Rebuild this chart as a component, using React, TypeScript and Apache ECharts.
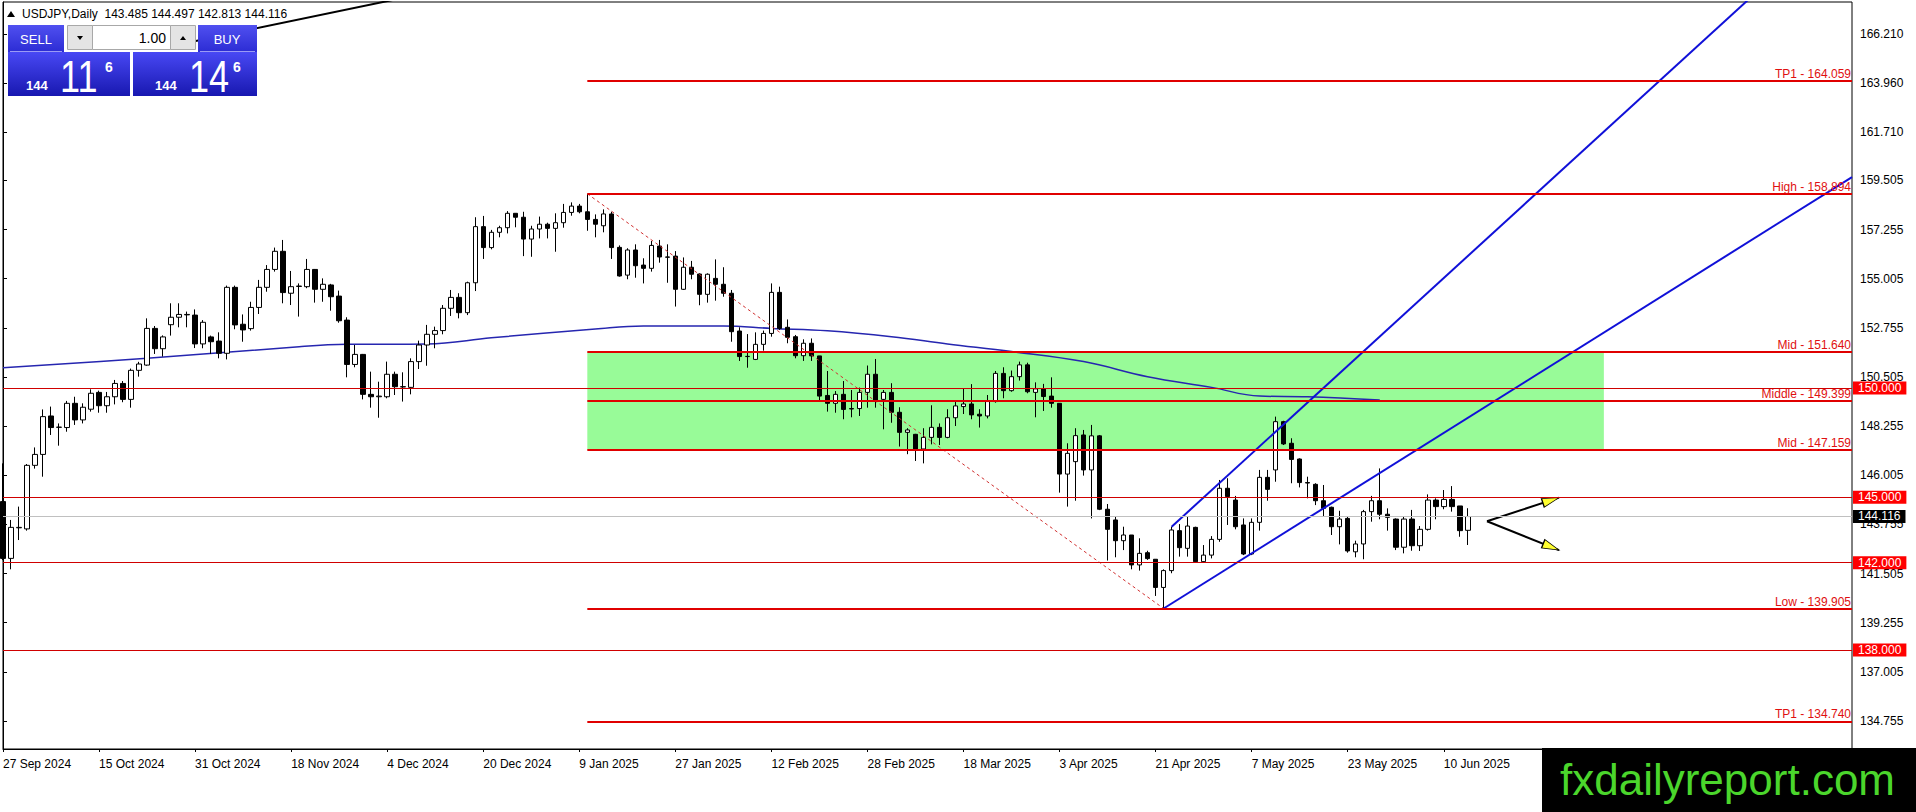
import React, { useEffect, useRef } from 'react';
import * as echarts from 'echarts';

const FONT = "'Liberation Sans', Arial, sans-serif";

// ---- x axis ----
const dateLabels = ['27 Sep 2024', '15 Oct 2024', '31 Oct 2024', '18 Nov 2024', '4 Dec 2024', '20 Dec 2024', '9 Jan 2025', '27 Jan 2025', '12 Feb 2025', '28 Feb 2025', '18 Mar 2025', '3 Apr 2025', '21 Apr 2025', '7 May 2025', '23 May 2025', '10 Jun 2025'];
const LABEL_EVERY = 12;
const SLOT_COUNT = 232; // bars + empty space to the right

// ---- candles (daily USDJPY) ----
const opens = [144.80, 142.20, 143.60, 143.55, 146.46, 146.96, 148.72, 148.20, 148.19, 149.30,
  148.54, 149.03, 149.80, 149.19, 149.60, 150.21, 149.48, 150.81, 151.05, 152.73,
  151.80, 152.90, 153.24, 153.37, 153.34, 152.02, 152.34, 152.15, 151.59, 154.61,
  152.92, 152.72, 153.69, 154.61, 155.43, 156.26, 154.34, 154.65, 154.64, 155.43,
  154.52, 154.72, 154.21, 153.11, 151.08, 151.54, 149.71, 149.60, 149.60, 150.63,
  150.06, 150.03, 151.21, 151.97, 152.46, 152.63, 153.65, 154.15, 153.45, 154.82,
  157.39, 156.43, 157.13, 157.34, 158.00, 157.82, 156.82, 157.28, 157.50, 157.31,
  157.57, 158.04, 158.33, 158.07, 157.72, 157.43, 157.97, 156.44, 155.17, 156.32,
  155.63, 155.48, 156.50, 156.00, 156.04, 154.52, 155.53, 155.22, 154.29, 155.02,
  154.75, 154.34, 152.61, 151.44, 151.31, 152.00, 152.50, 154.38, 152.78, 152.35,
  151.48, 152.05, 151.47, 149.66, 149.30, 149.71, 149.06, 149.06, 149.80, 150.63,
  149.48, 149.80, 148.89, 147.97, 147.88, 147.21, 147.74, 148.20, 147.74, 148.64,
  149.15, 149.27, 148.80, 148.72, 149.38, 150.67, 149.88, 150.52, 151.06, 149.80,
  149.96, 149.63, 149.30, 146.06, 146.63, 147.85, 146.25, 147.81, 144.45, 143.96,
  143.01, 143.27, 141.90, 142.46, 142.16, 140.87, 141.64, 143.47, 142.66, 143.62,
  142.05, 142.35, 143.07, 145.41, 144.87, 143.73, 142.40, 143.85, 145.91, 146.25,
  148.46, 147.47, 146.75, 145.67, 145.59, 144.84, 144.54, 143.65, 144.03, 142.50,
  142.86, 144.34, 144.84, 144.22, 144.00, 142.71, 144.00, 142.78, 143.53, 144.87,
  144.57, 144.90, 144.60, 143.485];
const highs = [146.55, 143.96, 144.57, 146.52, 147.28, 149.02, 149.15, 148.38, 149.41, 149.60,
  149.30, 149.94, 149.88, 149.82, 150.37, 150.32, 150.89, 151.20, 153.19, 152.84,
  152.41, 153.88, 153.88, 153.50, 153.60, 153.11, 152.40, 152.55, 154.69, 154.69,
  153.37, 153.95, 154.95, 155.63, 156.43, 156.78, 155.36, 154.79, 155.91, 155.45,
  155.02, 154.77, 154.46, 153.24, 151.97, 151.56, 150.75, 150.29, 151.21, 150.75,
  150.72, 151.36, 152.17, 152.89, 152.81, 153.80, 154.49, 154.34, 154.87, 157.82,
  157.88, 157.24, 157.43, 158.10, 158.00, 158.07, 157.43, 157.85, 157.57, 158.00,
  158.43, 158.50, 158.43, 158.89, 157.95, 158.18, 158.07, 156.53, 156.40, 156.58,
  155.94, 156.73, 156.78, 156.58, 156.27, 155.98, 155.82, 155.25, 155.25, 155.89,
  155.53, 154.49, 152.78, 152.47, 152.55, 152.63, 154.79, 154.64, 153.14, 152.43,
  152.23, 152.27, 151.47, 150.78, 149.86, 150.32, 149.91, 150.02, 151.03, 151.33,
  149.91, 150.22, 149.12, 148.16, 147.90, 148.16, 149.21, 148.38, 149.03, 149.38,
  149.99, 150.18, 149.03, 149.68, 150.78, 150.95, 150.80, 151.21, 151.16, 150.26,
  150.19, 150.49, 149.30, 147.47, 148.16, 148.08, 148.31, 147.85, 144.69, 144.14,
  143.65, 143.27, 143.12, 142.55, 142.16, 141.70, 143.65, 143.77, 144.11, 143.65,
  142.81, 143.22, 145.79, 145.87, 145.06, 144.03, 144.03, 146.25, 146.25, 148.69,
  148.50, 147.70, 146.78, 145.94, 145.64, 145.56, 144.57, 144.38, 144.11, 143.01,
  144.42, 145.06, 146.32, 144.49, 144.03, 144.11, 144.42, 143.68, 145.13, 144.95,
  145.33, 145.51, 144.60, 144.497];
const lows = [142.12, 141.70, 143.04, 143.47, 146.31, 145.94, 147.85, 147.36, 148.00, 148.31,
  148.38, 148.92, 148.87, 148.87, 149.25, 149.35, 149.10, 150.52, 151.02, 151.56,
  151.44, 152.40, 152.78, 152.78, 151.83, 151.82, 151.56, 151.36, 151.31, 152.69,
  152.12, 152.63, 153.39, 154.41, 155.33, 153.88, 153.80, 153.27, 154.57, 153.91,
  153.95, 153.54, 152.99, 150.49, 150.95, 149.48, 149.10, 148.64, 149.53, 149.68,
  149.38, 149.71, 150.87, 151.02, 151.82, 152.46, 153.30, 153.19, 153.34, 154.44,
  155.91, 156.35, 156.90, 157.08, 157.36, 156.04, 156.01, 156.85, 156.85, 156.24,
  157.34, 157.89, 158.00, 157.20, 156.90, 157.13, 155.91, 155.10, 154.98, 155.05,
  154.79, 155.33, 155.74, 154.82, 153.73, 154.49, 154.98, 153.79, 153.91, 154.00,
  154.18, 152.12, 151.24, 150.93, 151.28, 151.71, 152.35, 152.66, 152.05, 151.36,
  151.24, 151.24, 149.45, 148.92, 148.87, 148.57, 148.66, 148.72, 149.10, 149.10,
  148.11, 148.41, 147.32, 146.97, 146.66, 146.55, 147.42, 147.39, 147.70, 148.26,
  148.81, 148.57, 148.19, 148.61, 149.33, 149.53, 149.83, 150.34, 149.76, 148.66,
  148.95, 149.10, 145.21, 144.57, 144.84, 145.99, 144.03, 144.41, 142.10, 142.25,
  142.58, 141.70, 141.64, 142.13, 140.48, 139.91, 141.52, 142.28, 142.28, 142.00,
  142.00, 142.20, 142.96, 143.73, 143.53, 142.35, 142.35, 143.47, 144.84, 145.71,
  147.39, 145.64, 145.45, 144.95, 144.64, 144.11, 143.27, 142.84, 142.46, 142.25,
  142.16, 143.88, 143.99, 143.47, 142.58, 142.43, 142.55, 142.54, 143.47, 143.99,
  144.45, 144.34, 143.19, 142.813];
const closes = [142.20, 143.62, 143.62, 146.46, 146.96, 148.69, 148.19, 148.21, 149.30, 148.54,
  149.12, 149.76, 149.19, 149.60, 150.21, 149.48, 150.81, 151.10, 152.73, 151.80,
  152.34, 153.24, 153.37, 153.35, 152.02, 153.01, 152.12, 151.59, 154.61, 152.89,
  152.66, 153.69, 154.61, 155.43, 156.26, 154.37, 154.64, 154.67, 155.43, 154.52,
  154.75, 154.18, 153.08, 151.08, 151.54, 149.71, 149.60, 149.63, 150.63, 150.06,
  150.05, 151.21, 151.97, 152.46, 152.63, 153.65, 154.15, 153.45, 154.82, 157.39,
  156.43, 157.13, 157.34, 158.00, 157.82, 156.82, 157.28, 157.50, 157.31, 157.57,
  158.04, 158.33, 158.07, 157.72, 157.50, 157.97, 156.43, 155.13, 156.32, 155.60,
  155.48, 156.53, 156.00, 155.99, 154.52, 155.53, 155.21, 154.29, 155.21, 154.75,
  154.34, 152.58, 151.44, 151.45, 152.00, 152.50, 154.38, 152.73, 152.32, 151.48,
  152.05, 151.47, 149.63, 149.30, 149.71, 149.02, 149.04, 149.80, 150.63, 149.41,
  149.80, 148.89, 147.97, 148.08, 147.21, 147.74, 148.20, 147.74, 148.64, 149.18,
  149.27, 148.77, 148.72, 149.38, 150.67, 149.88, 150.52, 151.06, 149.83, 149.96,
  149.61, 149.30, 146.06, 147.01, 147.82, 146.25, 147.81, 144.45, 143.53, 143.01,
  143.27, 141.90, 142.43, 142.19, 140.87, 141.64, 143.50, 142.69, 143.68, 142.05,
  142.35, 143.07, 145.41, 145.03, 143.65, 142.40, 143.85, 145.91, 145.36, 148.46,
  147.44, 146.73, 145.67, 145.65, 144.84, 144.49, 143.65, 144.00, 142.54, 142.86,
  144.34, 144.84, 144.22, 144.08, 142.71, 144.00, 142.78, 143.53, 144.87, 144.57,
  144.90, 144.57, 143.47, 144.116];

// ---- price axis ----
const yTickLabels = [166.21, 163.96, 161.71, 159.505, 157.255, 155.005, 152.755, 150.505, 148.255, 146.005, 143.755, 141.505, 139.255, 137.005, 134.755];
const Y_MIN = 133.472;
const Y_MAX = 167.675;

// ---- moving average ----
const maBars = [0, 18, 37, 43, 53, 61, 74, 80, 90, 96, 103, 111, 118, 126, 135, 143, 151, 157, 163, 172];
const maValues = [150.93, 151.36, 151.89, 152.0, 152.02, 152.3, 152.7, 152.84, 152.84, 152.73, 152.62, 152.35, 152.02, 151.67, 151.21, 150.52, 150.03, 149.63, 149.6, 149.45];

// ---- levels ----
const zoneStartBar = 73;
const zoneEndBar = 200;
const levelNames = ['TP1', 'High', 'Mid', 'Middle', 'Mid', 'Low', 'TP1'];
const levelValues = [164.059, 158.894, 151.64, 149.399, 147.159, 139.905, 134.74];
const roundLevels = [150, 145, 142, 138];
const bidPrice = 144.116;

// ---- drawn objects (bar index, price) ----
const trendLow = [[145, 139.905], [231, 159.66]];
const trendSteep = [[146, 143.65], [219, 168.1]];
const highLowLine = [[73, 158.894], [145, 139.905]];
const topLine = [[20, 165.58], [52, 168.02]];
const arrowUp = [[185.4, 143.9], [194.4, 144.98]];
const arrowDown = [[185.4, 143.9], [194.4, 142.58]];
const arrowHeads = [[193.39, 144.86, -71.85], [193.41, 142.725, -111.8]];

const RED = '#e00000';

function buildOption() {
  const candles = opens.map((o, i) => [o, closes[i], lows[i], highs[i]]);
  const categories = Array.from({ length: SLOT_COUNT }, (_, i) => String(i));
  const showDate = (idx: number) => idx % LABEL_EVERY === 0 && idx / LABEL_EVERY < dateLabels.length;

  const levelMark: any[] = [];
  levelValues.forEach((v, k) => {
    levelMark.push([
      {
        coord: [zoneStartBar, v],
        lineStyle: { color: RED, width: 2, type: 'solid' },
        label: {
          show: true, position: 'insideEndTop', distance: [1, 1],
          formatter: `${levelNames[k]} - ${v.toFixed(3)}`,
          color: '#e01010', fontSize: 12, fontFamily: FONT,
        },
      },
      { coord: [SLOT_COUNT - 1, v] },
    ]);
  });
  levelMark.push({
    yAxis: bidPrice,
    lineStyle: { color: '#c0c0c0', width: 1, type: 'solid' },
    label: {
      show: true, position: 'end', distance: [1, 0], formatter: bidPrice.toFixed(3),
      color: '#fff', backgroundColor: '#000', padding: [1, 5, 0, 5], fontSize: 12, fontFamily: FONT,
    },
  });
  roundLevels.forEach((v) => {
    levelMark.push({
      yAxis: v,
      lineStyle: { color: '#d00000', width: 1, type: 'solid' },
      label: {
        show: true, position: 'end', distance: [1, 0], formatter: v.toFixed(3),
        color: '#fff', backgroundColor: '#ff0000', padding: [1, 5, 0, 5], fontSize: 12, fontFamily: FONT,
      },
    });
  });

  const lineSeries = (data: number[][], color: string, width: number, type: any = 'solid', z = 3) => ({
    type: 'line', xAxisIndex: 1, yAxisIndex: 0, data, showSymbol: false, symbol: 'none', silent: true,
    lineStyle: { color, width, type }, z, clip: true,
  });

  const blueGrad = () => new echarts.graphic.LinearGradient(0, 0, 0, 1, [
    { offset: 0, color: '#4848f4' }, { offset: 1, color: '#1818b0' },
  ]);
  const headGrad = () => new echarts.graphic.LinearGradient(0, 0, 0, 1, [
    { offset: 0, color: '#5050f0' }, { offset: 1, color: '#2c2cd4' },
  ]);
  const txt = (x: number, y: number, text: string, size: number, opts: any = {}) => ({
    type: 'text', x, y, z: 101, silent: true, scaleX: opts.scaleX ?? 1,
    style: {
      text, fill: opts.fill ?? '#fff', fontSize: size, fontFamily: FONT, fontWeight: opts.weight ?? 'normal',
      align: opts.align ?? 'left', verticalAlign: 'middle',
    },
  });

  const graphic: any[] = [
    // header
    { type: 'polygon', z: 101, silent: true, shape: { points: [[7, 17], [11, 11], [15, 17]] }, style: { fill: '#000' } },
    txt(22, 14, 'USDJPY,Daily  143.485 144.497 142.813 144.116', 12, { fill: '#000' }),
    // SELL / BUY headers
    { type: 'rect', z: 100, silent: true, shape: { x: 8, y: 25, width: 56, height: 27 }, style: { fill: headGrad() } },
    { type: 'rect', z: 100, silent: true, shape: { x: 198, y: 25, width: 59, height: 27 }, style: { fill: headGrad() } },
    { type: 'line', z: 101, silent: true, shape: { x1: 10, y1: 51.5, x2: 62, y2: 51.5 }, style: { stroke: '#9a9af5', lineWidth: 1 } },
    { type: 'line', z: 101, silent: true, shape: { x1: 200, y1: 51.5, x2: 255, y2: 51.5 }, style: { stroke: '#9a9af5', lineWidth: 1 } },
    txt(36, 39, 'SELL', 13, { align: 'center' }),
    txt(227, 39, 'BUY', 13, { align: 'center' }),
    // lot input
    { type: 'rect', z: 100, silent: true, shape: { x: 67.5, y: 25.5, width: 25, height: 24 }, style: { fill: '#e4e4e4', stroke: '#a8a8a8', lineWidth: 1 } },
    { type: 'rect', z: 100, silent: true, shape: { x: 92.5, y: 25.5, width: 78, height: 24 }, style: { fill: '#ffffff', stroke: '#a8a8a8', lineWidth: 1 } },
    { type: 'rect', z: 100, silent: true, shape: { x: 170.5, y: 25.5, width: 25, height: 24 }, style: { fill: '#e4e4e4', stroke: '#a8a8a8', lineWidth: 1 } },
    { type: 'polygon', z: 101, silent: true, shape: { points: [[77, 36], [83, 36], [80, 40]] }, style: { fill: '#000' } },
    { type: 'polygon', z: 101, silent: true, shape: { points: [[180, 40], [186, 40], [183, 36]] }, style: { fill: '#000' } },
    txt(166, 38, '1.00', 14, { fill: '#000', align: 'right' }),
    // price boxes
    { type: 'rect', z: 100, silent: true, shape: { x: 8, y: 52, width: 122, height: 44 }, style: { fill: blueGrad() } },
    { type: 'rect', z: 100, silent: true, shape: { x: 133, y: 52, width: 124, height: 44 }, style: { fill: blueGrad() } },
    txt(26, 85, '144', 13, { weight: 'bold' }),
    txt(60, 77, '11', 44, { scaleX: 0.82 }),
    txt(105, 67, '6', 14, { weight: 'bold' }),
    txt(155, 85, '144', 13, { weight: 'bold' }),
    txt(189, 77, '14', 44, { scaleX: 0.82 }),
    txt(233, 67, '6', 14, { weight: 'bold' }),
    // watermark
    { type: 'rect', z: 100, silent: true, shape: { x: 1542, y: 748, width: 374, height: 64 }, style: { fill: '#000' } },
    txt(1560, 779, 'fxdailyreport.com', 44, { fill: '#4bd62c' }),
  ];

  return {
    animation: false,
    backgroundColor: '#fff',
    textStyle: { fontFamily: FONT },
    grid: { left: 3, top: 2, width: 1849, height: 747, show: true, borderColor: '#000', borderWidth: 1, backgroundColor: 'transparent' },
    xAxis: [
      {
        type: 'category', data: categories, boundaryGap: false,
        axisLine: { show: true, lineStyle: { color: '#000', width: 1 } },
        axisTick: { show: true, interval: showDate, length: 3, lineStyle: { color: '#000' } },
        axisLabel: {
          show: true, interval: showDate, align: 'left', margin: 9, color: '#000', fontSize: 12, fontFamily: FONT,
          formatter: (_v: string, idx: number) => (showDate(idx) ? dateLabels[idx / LABEL_EVERY] : ''),
        },
        splitLine: { show: false },
      },
      { type: 'value', min: 0, max: SLOT_COUNT - 1, show: false, gridIndex: 0 },
    ],
    yAxis: [{
      type: 'value', position: 'right', min: Y_MIN, max: Y_MAX,
      axisLine: { show: true, lineStyle: { color: '#000', width: 1 } },
      axisTick: { show: true, length: 4, customValues: yTickLabels, lineStyle: { color: '#000' } },
      axisLabel: {
        show: true, customValues: yTickLabels, margin: 8, color: '#000', fontSize: 12, fontFamily: FONT,
        formatter: (v: number) => v.toFixed(3),
      },
      splitLine: { show: false },
    }],
    graphic,
    series: [
      {
        type: 'line', xAxisIndex: 1, yAxisIndex: 0, data: [], silent: true, clip: false,
        markArea: {
          silent: true, label: { show: false },
          itemStyle: { color: '#98fb98', opacity: 1 },
          data: [[{ coord: [zoneStartBar, levelValues[2]] }, { coord: [zoneEndBar, levelValues[4]] }]],
        },
      },
      { ...lineSeries(maBars.map((b, i) => [b, maValues[i]]), '#2626b0', 1.5, 'solid', 1.5), smooth: 0.4 },
      {
        type: 'candlestick', xAxisIndex: 0, yAxisIndex: 0, data: candles, barWidth: 5, silent: true, clip: true, z: 2,
        itemStyle: { color: '#ffffff', color0: '#000000', borderColor: '#000000', borderColor0: '#000000', borderColorDoji: '#000000', borderWidth: 1 },
      },
      lineSeries(highLowLine, '#d03030', 1, [3, 3]),
      lineSeries(trendLow, '#1010d8', 2),
      lineSeries(trendSteep, '#1010d8', 2),
      lineSeries(topLine, '#000000', 2),
      lineSeries(arrowUp, '#000000', 2),
      lineSeries(arrowDown, '#000000', 2),
      {
        type: 'scatter', xAxisIndex: 1, yAxisIndex: 0, silent: true, z: 4,
        data: arrowHeads.map((h) => ({ value: [h[0], h[1]], symbolRotate: h[2] })),
        symbol: 'triangle', symbolSize: [9, 17],
        itemStyle: { color: '#ffff30', borderColor: '#000', borderWidth: 1, opacity: 1 },
      },
      {
        type: 'line', xAxisIndex: 1, yAxisIndex: 0, data: [], silent: true, clip: false,
        markLine: { silent: true, symbol: ['none', 'none'], emphasis: { disabled: true }, data: levelMark },
      },
    ],
  };
}

export default function App() {
  const ref = useRef<HTMLDivElement>(null);
  useEffect(() => {
    if (!ref.current) return;
    const chart = echarts.init(ref.current, null, { renderer: 'svg' });
    chart.setOption(buildOption() as any);
    return () => chart.dispose();
  }, []);
  return <div ref={ref} style={{ position: 'fixed', left: 0, top: 0, width: 1916, height: 812, background: '#fff' }} />;
}
